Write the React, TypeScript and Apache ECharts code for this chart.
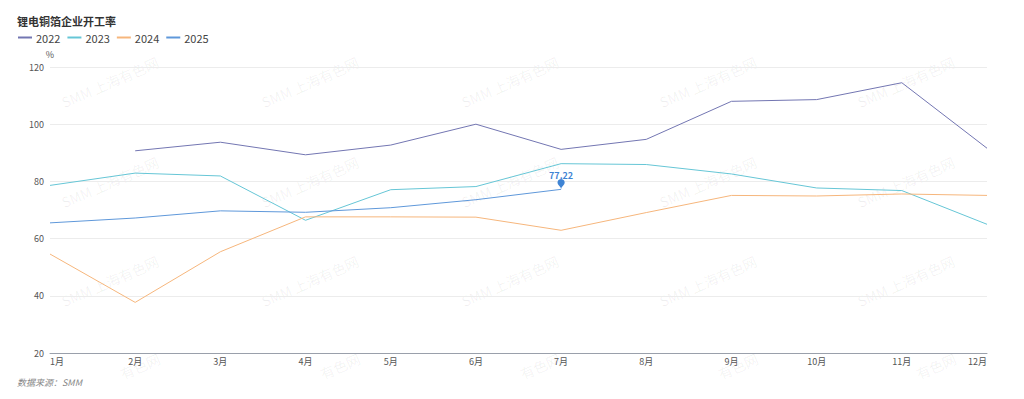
import React, { useEffect, useRef } from "react";
import * as echarts from "echarts";

const months = ["1月", "2月", "3月", "4月", "5月", "6月", "7月", "8月", "9月", "10月", "11月", "12月"];
const s2022 = [null, 90.7, 93.7, 89.3, 92.7, 100.0, 91.2, 94.7, 108.0, 108.6, 114.5, 91.6];
const s2023 = [78.6, 82.9, 81.9, 66.4, 77.1, 78.2, 86.2, 85.9, 82.6, 77.7, 76.8, 65.0];
const s2024 = [54.6, 37.7, 55.4, 67.6, 67.6, 67.5, 62.9, 69.1, 75.1, 74.9, 75.6, 75.1];
const s2025 = [65.5, 67.2, 69.7, 69.2, 70.8, 73.6, 77.22];
const seriesNames = ["2022", "2023", "2024", "2025"];
const colors = ["#7376b2", "#66c6d6", "#f6b67c", "#5f98da"];
const yTicks = { min: 20, max: 120, interval: 20 };
const wmCols = [110, 310, 510, 708, 906];
const wmRows = [82, 182, 281];

export default function App() {
  const ref = useRef<HTMLDivElement>(null);
  useEffect(() => {
    document.body.style.margin = "0";
    const chart = echarts.init(ref.current!, null, { renderer: "svg" });
    const wmStyle = {
      fill: "rgba(0,0,0,0.06)",
      font: "14px 'Noto Sans CJK SC', sans-serif",
      align: "center",
      verticalAlign: "middle",
    };
    const watermarks: any[] = [];
    wmRows.forEach((y) =>
      wmCols.forEach((x) => {
        watermarks.push({
          type: "text",
          x,
          y,
          rotation: 0.41,
          silent: true,
          z: 0,
          style: { text: "SMM 上海有色网", ...wmStyle },
        });
      })
    );
    // partially visible bottom row (clipped by the plot area)
    wmCols.forEach((x) => {
      watermarks.push({
        type: "text",
        x: x + 30,
        y: 366,
        rotation: 0.41,
        silent: true,
        z: 0,
        style: { text: "有色网", ...wmStyle },
      });
    });
    watermarks.push({
      type: "text",
      left: 17,
      top: 378,
      silent: true,
      style: {
        text: "数据来源：SMM",
        fill: "#888",
        font: "italic 9px 'Noto Sans CJK SC', sans-serif",
      },
    });
    const data = [s2022, s2023, s2024, s2025];
    chart.setOption({
      animation: false,
      color: colors,
      textStyle: { fontFamily: "'Noto Sans CJK SC', 'Noto Sans', sans-serif" },
      title: {
        text: "锂电铜箔企业开工率",
        left: 12,
        top: 10,
        textStyle: { fontSize: 11, fontWeight: "bold", color: "#333" },
      },
      legend: {
        left: 13,
        top: 27,
        icon: "path://M0,0 L14,0 L14,2 L0,2 Z",
        itemWidth: 14,
        itemHeight: 2,
        itemGap: 7,
        data: seriesNames,
        textStyle: { fontSize: 11, color: "#444", padding: [0, 0, 0, -1] },
      },
      graphic: watermarks,
      grid: { left: 50, right: 37, top: 67, bottom: 46 },
      xAxis: {
        type: "category",
        data: months,
        boundaryGap: false,
        axisLine: { lineStyle: { color: "#9aa0ab" } },
        axisTick: { show: false },
        axisLabel: {
          fontSize: 9,
          color: "#555",
          margin: 4,
          alignMinLabel: "left",
          alignMaxLabel: "right",
        },
        splitLine: { show: false },
      },
      yAxis: {
        type: "value",
        min: yTicks.min,
        max: yTicks.max,
        interval: yTicks.interval,
        name: "%",
        nameGap: 8,
        nameTextStyle: { fontSize: 9, color: "#555", align: "center" },
        axisLine: { show: false },
        axisTick: { show: false },
        axisLabel: { fontSize: 9, color: "#555", margin: 6 },
        splitLine: { lineStyle: { color: "#ececec" } },
      },
      series: seriesNames.map((n, i) => ({
        name: n,
        type: "line",
        data: data[i],
        showSymbol: false,
        symbol: "none",
        lineStyle: { width: 1 },
        z: 3,
        ...(i === 3
          ? {
              markPoint: {
                symbol: "pin",
                symbolSize: 12,
                itemStyle: { color: "#3f84d4" },
                label: {
                  show: true,
                  position: "top",
                  distance: 1,
                  offset: [0, 2],
                  fontSize: 9,
                  fontWeight: "bold",
                  color: "#3f84d4",
                  formatter: (p: any) => String(p.value),
                },
                data: [{ coord: [6, s2025[6]], value: s2025[6] }],
              },
            }
          : {}),
      })),
    });
    return () => chart.dispose();
  }, []);
  return <div ref={ref} style={{ width: 1024, height: 399 }} />;
}
